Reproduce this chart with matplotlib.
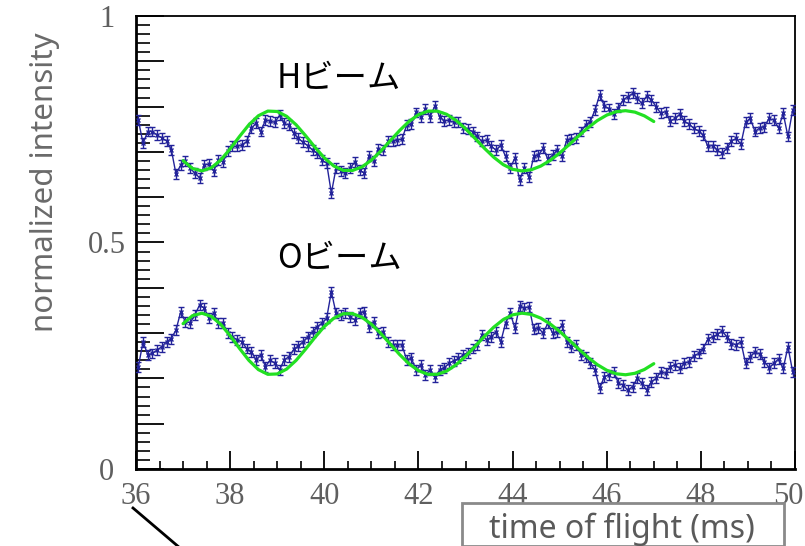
import numpy as np
import matplotlib
matplotlib.use("Agg")
import matplotlib.pyplot as plt
from matplotlib.ticker import MultipleLocator, FuncFormatter
from matplotlib.patches import Rectangle
from matplotlib.lines import Line2D

# ---- measured intensities, 0.1 ms bins from 36.05 to 49.95 ms ----
tof_ms = np.round(np.arange(36.05, 50.0, 0.1), 2)

h_beam = [
    0.770, 0.719, 0.745, 0.745, 0.737, 0.731, 0.724, 0.705, 0.651, 0.671,
    0.680, 0.664, 0.653, 0.643, 0.671, 0.673, 0.658, 0.682, 0.678, 0.701,
    0.712, 0.712, 0.715, 0.723, 0.752, 0.763, 0.745, 0.770, 0.768, 0.765,
    0.781, 0.763, 0.759, 0.741, 0.730, 0.721,
    0.714, 0.704, 0.697, 0.682, 0.675, 0.609, 0.664, 0.658, 0.653, 0.664,
    0.678, 0.660, 0.653, 0.690, 0.680, 0.706, 0.704, 0.723, 0.724, 0.726,
    0.728, 0.759, 0.761, 0.787, 0.778, 0.795, 0.778, 0.802, 0.778, 0.768,
    0.770, 0.765, 0.767, 0.752, 0.750,
    0.745, 0.734, 0.723, 0.726, 0.712, 0.704, 0.715, 0.690, 0.664, 0.687,
    0.638, 0.664, 0.645, 0.690, 0.693, 0.708, 0.684, 0.693, 0.704, 0.690,
    0.726, 0.728, 0.731, 0.745, 0.759, 0.767, 0.792, 0.826, 0.802, 0.795,
    0.783, 0.798, 0.815, 0.822,
    0.829, 0.818, 0.807, 0.824, 0.815, 0.800, 0.785, 0.789, 0.768, 0.774,
    0.783, 0.768, 0.761, 0.752, 0.746, 0.737, 0.712, 0.714, 0.704, 0.697,
    0.708, 0.724, 0.730, 0.717, 0.765, 0.774, 0.745, 0.753, 0.756, 0.774,
    0.770, 0.753, 0.785, 0.734, 0.792,
]

o_beam = [
    0.226, 0.281, 0.252, 0.255, 0.263, 0.270, 0.281, 0.288, 0.307, 0.347,
    0.325, 0.323, 0.340, 0.362, 0.355, 0.333, 0.344, 0.322, 0.322, 0.300,
    0.292, 0.285, 0.281, 0.266, 0.259, 0.241, 0.252, 0.226, 0.241, 0.233,
    0.219, 0.241, 0.248, 0.264, 0.272, 0.281, 0.292, 0.303, 0.314, 0.322,
    0.333, 0.391, 0.344, 0.340, 0.345, 0.336, 0.329, 0.345, 0.347, 0.314,
    0.325, 0.300, 0.303, 0.281, 0.274, 0.274,
    0.274, 0.241, 0.244, 0.219, 0.230, 0.208, 0.219, 0.202, 0.219, 0.224,
    0.233, 0.239, 0.244, 0.252, 0.257, 0.266, 0.274, 0.296, 0.285, 0.292,
    0.303, 0.281, 0.322, 0.344, 0.311, 0.360, 0.355, 0.358, 0.308, 0.311,
    0.300, 0.322, 0.300, 0.303, 0.318, 0.281, 0.270, 0.274, 0.252, 0.248,
    0.233, 0.219, 0.178, 0.204, 0.208, 0.215, 0.189, 0.185, 0.174,
    0.182, 0.200, 0.189, 0.174, 0.193, 0.200, 0.215, 0.211, 0.226, 0.230,
    0.222, 0.233, 0.237, 0.250, 0.255, 0.266, 0.287, 0.292, 0.297, 0.305,
    0.292, 0.277, 0.274, 0.281, 0.233, 0.248, 0.259, 0.253, 0.237, 0.224,
    0.233, 0.243, 0.222, 0.270, 0.215,
]

stat_err = 0.011

# ---- fitted oscillation curves, sampled every 0.2 ms from 37 to 47 ms ----
fit_t = np.round(np.arange(37.0, 47.01, 0.2), 1)

h_fit = [
    0.6807, 0.6634, 0.6581, 0.6649, 0.6821, 0.7066, 0.7342, 0.7601, 0.7798, 0.7901,
    0.7892, 0.7786, 0.7600, 0.7361, 0.7105, 0.6869, 0.6690, 0.6593, 0.6590, 0.6669,
    0.6817, 0.7018, 0.7245, 0.7472, 0.7673, 0.7821, 0.7900, 0.7901, 0.7830, 0.7695,
    0.7512, 0.7300, 0.7082, 0.6882, 0.6720, 0.6616, 0.6580, 0.6607, 0.6688, 0.6813,
    0.6974, 0.7159, 0.7350, 0.7532, 0.7691, 0.7812, 0.7888, 0.7910, 0.7878, 0.7796,
    0.7671,
]

o_fit = [
    0.3208, 0.3385, 0.3439, 0.3369, 0.3193, 0.2943, 0.2661, 0.2396, 0.2194, 0.2090,
    0.2098, 0.2206, 0.2397, 0.2642, 0.2903, 0.3145, 0.3327, 0.3427, 0.3430, 0.3349,
    0.3197, 0.2993, 0.2760, 0.2527, 0.2323, 0.2171, 0.2090, 0.2090, 0.2162, 0.2300,
    0.2487, 0.2704, 0.2927, 0.3131, 0.3297, 0.3403, 0.3440, 0.3412, 0.3330, 0.3201,
    0.3037, 0.2848, 0.2653, 0.2466, 0.2304, 0.2180, 0.2102, 0.2080, 0.2113, 0.2196,
    0.2325,
]

y_tick_labels = {0.0: "0", 0.5: "0.5", 1.0: "1"}
x_tick_values = [36, 38, 40, 42, 44, 46, 48]   # 50 is drawn separately, kept inside the frame
x_last_tick = 50

# ---- figure ----
W, H = 805, 546
fig = plt.figure(figsize=(W / 100, H / 100), dpi=100)
fig.patch.set_facecolor("white")

ax_l, ax_r, ax_t, ax_b = 136, 795, 16, 469
ax = fig.add_axes([ax_l / W, 1 - ax_b / H, (ax_r - ax_l) / W, (ax_b - ax_t) / H])

data_color = "#23239a"
fit_color = "#22e022"

for series in (h_beam, o_beam):
    ax.errorbar(tof_ms, series, yerr=stat_err, color=data_color, lw=1.0,
                elinewidth=1.0, capsize=2.2, capthick=1.0,
                marker="x", ms=3.2, mew=1.0, zorder=3)

ax.plot(fit_t, h_fit, color=fit_color, lw=2.3, solid_capstyle="round", zorder=4)
ax.plot(fit_t, o_fit, color=fit_color, lw=2.3, solid_capstyle="round", zorder=4)

ax.set_xlim(36, 50)
ax.set_ylim(0, 1.0)

# axis frame
for side in ("left", "bottom", "top", "right"):
    ax.spines[side].set_color("black")
    ax.spines[side].set_linewidth(1.3)
ax.spines["left"].set_linewidth(2.0)
ax.spines["bottom"].set_linewidth(2.0)

serif = "Liberation Serif"
label_gray = "#5f5f5f"

ax.xaxis.set_major_locator(MultipleLocator(2))
ax.xaxis.set_minor_locator(MultipleLocator(0.5))
ax.yaxis.set_major_locator(MultipleLocator(0.1))
ax.yaxis.set_minor_locator(MultipleLocator(0.02))
ax.xaxis.set_major_formatter(FuncFormatter(
    lambda v, p: f"{v:.0f}" if round(v) in x_tick_values else ""))
ax.yaxis.set_major_formatter(FuncFormatter(
    lambda v, p: y_tick_labels.get(round(v, 2), "")))

ax.tick_params(axis="x", which="major", direction="in", length=13, width=1.3,
               pad=9, labelsize=22, labelcolor=label_gray, top=False)
ax.tick_params(axis="x", which="minor", direction="in", length=6, width=1.2, top=False)
ax.tick_params(axis="y", which="major", direction="in", length=20, width=1.3,
               pad=21, labelsize=22, labelcolor=label_gray, right=False)
ax.tick_params(axis="y", which="minor", direction="in", length=10, width=1.2, right=False)
for lab in ax.get_xticklabels() + ax.get_yticklabels():
    lab.set_fontfamily(serif)
for lab in ax.get_yticklabels():
    lab.set_horizontalalignment("center")

# last x tick label, nudged left so it stays on the canvas
ax.annotate(f"{x_last_tick}", xy=(x_last_tick, 0), xycoords=("data", "axes fraction"),
            xytext=(-5, -9), textcoords="offset points", ha="center", va="top",
            fontsize=22, family=serif, color=label_gray, annotation_clip=False)

# beam labels
jp = ["Noto Sans CJK JP", "DejaVu Sans"]
ax.text(277 / W, 1 - 78 / H, "Hビーム", transform=fig.transFigure, family=jp,
        fontsize=24, color="black", ha="left", va="center")
ax.text(277 / W, 1 - 258 / H, "Oビーム", transform=fig.transFigure, family=jp,
        fontsize=24, color="black", ha="left", va="center")

# axis titles
fig.text(45 / W, 1 - 182 / H, "normalized intensity", rotation=90,
         family=["Noto Sans", "DejaVu Sans"], fontsize=22.5, color="#6a6a6a",
         ha="center", va="center")

fig.patches.append(Rectangle((462 / W, 0), (784 - 462) / W, (H - 503) / H,
                             transform=fig.transFigure, fill=False,
                             edgecolor="#8a8a8a", lw=2.0))
fig.text(622 / W, 1 - 529 / H, "time of flight (ms)",
         family=["Noto Sans", "DejaVu Sans"], fontsize=23, color="#5a5a5a",
         ha="center", va="center")

# pointer line in the lower left
fig.lines.append(Line2D([133 / W, 180 / W], [1 - 508 / H, 1 - 548 / H],
                        transform=fig.transFigure, color="black", lw=2.0))

fig.savefig("out.png", dpi=100, facecolor="white")
